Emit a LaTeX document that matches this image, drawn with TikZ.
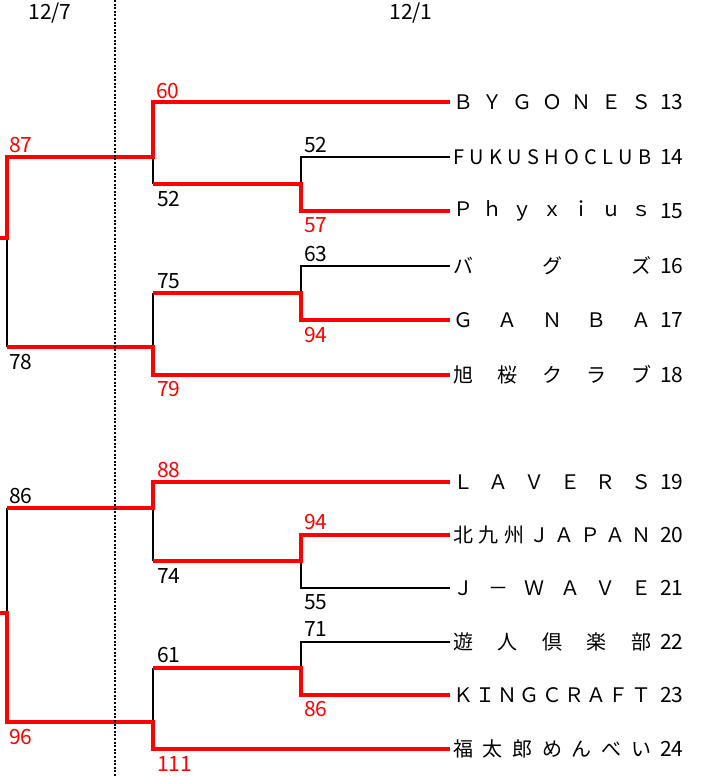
\documentclass[tikz,border=0pt]{standalone}
\usepackage{fontspec}
\setmainfont{Noto Sans CJK JP}
\begin{document}
\begin{tikzpicture}[x=1pt,y=-1pt,
  win/.style={draw={rgb,255:red,255;green,0;blue,0},line width=4pt,line join=miter},
  lose/.style={draw=black,line width=1.7pt,line join=miter},
  team/.style={anchor=west,inner xsep=3pt,inner ysep=0pt,font=\fontsize{20}{20}\selectfont},
  seed/.style={anchor=west,inner sep=0pt,font=\fontsize{21}{21}\selectfont},
  score/.style={anchor=west,inner sep=0pt,font=\fontsize{21}{21}\selectfont},
  rscore/.style={score,text={rgb,255:red,255;green,0;blue,0}},
  datelbl/.style={inner sep=0pt,font=\fontsize{21}{21}\selectfont}]
\useasboundingbox (0,0) rectangle (709,776);
\def\nw{198pt}
% teams
\node[team] (t13) at (450,102) {\makebox[\nw][l]{Ｂ\hfill Ｙ\hfill Ｇ\hfill Ｏ\hfill Ｎ\hfill Ｅ\hfill Ｓ}};
\node[team] (t14) at (450,157) {\makebox[\nw][l]{F\hfill U\hfill K\hfill U\hfill S\hfill H\hfill O\hfill C\hfill L\hfill U\hfill B}};
\node[team] (t15) at (450,211) {\makebox[\nw][l]{Ｐ\hfill ｈ\hfill ｙ\hfill ｘ\hfill ｉ\hfill ｕ\hfill ｓ}};
\node[team] (t16) at (450,266) {\makebox[\nw][l]{バ\hfill グ\hfill ズ}};
\node[team] (t17) at (450,320) {\makebox[\nw][l]{Ｇ\hfill Ａ\hfill Ｎ\hfill Ｂ\hfill Ａ}};
\node[team] (t18) at (450,375) {\makebox[\nw][l]{旭\hfill 桜\hfill ク\hfill ラ\hfill ブ}};
\node[team] (t19) at (450,482) {\makebox[\nw][l]{Ｌ\hfill Ａ\hfill Ｖ\hfill Ｅ\hfill Ｒ\hfill Ｓ}};
\node[team] (t20) at (450,535) {\makebox[\nw][l]{北\hfill 九\hfill 州\hfill Ｊ\hfill Ａ\hfill Ｐ\hfill Ａ\hfill Ｎ}};
\node[team] (t21) at (450,588) {\makebox[\nw][l]{Ｊ\hfill －\hfill Ｗ\hfill Ａ\hfill Ｖ\hfill Ｅ}};
\node[team] (t22) at (450,642) {\makebox[\nw][l]{遊\hfill 人\hfill 倶\hfill 楽\hfill 部}};
\node[team] (t23) at (450,695) {\makebox[\nw][l]{Ｋ\hfill Ｉ\hfill Ｎ\hfill Ｇ\hfill Ｃ\hfill Ｒ\hfill Ａ\hfill Ｆ\hfill Ｔ}};
\node[team] (t24) at (450,749) {\makebox[\nw][l]{福\hfill 太\hfill 郎\hfill め\hfill ん\hfill べ\hfill い}};
\foreach \n/\y in {13/102,14/157,15/211,16/266,17/320,18/375,19/482,20/535,21/588,22/642,23/695,24/749}
  \node[seed] (s\n) at (660,\y) {\n};
% joints
\coordinate (a13) at (153,102); \coordinate (a14) at (301,157); \coordinate (a15) at (301,211);
\coordinate (m1415) at (301,184); \coordinate (b1415) at (153,184);
\coordinate (q1) at (153,157); \coordinate (f1) at (7,157);
\coordinate (a16) at (301,266); \coordinate (a17) at (301,320); \coordinate (m1617) at (301,293);
\coordinate (b1617) at (153,293); \coordinate (a18) at (153,375); \coordinate (q2) at (153,347);
\coordinate (f2) at (7,347); \coordinate (fa) at (7,238); \coordinate (wa) at (0,238);
\coordinate (a19) at (153,482); \coordinate (q3) at (153,508); \coordinate (f3) at (7,508);
\coordinate (a20) at (301,535); \coordinate (a21) at (301,588); \coordinate (m2021) at (301,561);
\coordinate (b2021) at (153,561);
\coordinate (a22) at (301,642); \coordinate (a23) at (301,695); \coordinate (m2223) at (301,668);
\coordinate (b2223) at (153,668); \coordinate (a24) at (153,749); \coordinate (q4) at (153,722);
\coordinate (f4) at (7,722); \coordinate (fb) at (7,613); \coordinate (wb) at (0,613);
% losing lines
\draw[lose] (t14.west) -- (a14) -- (m1415);
\draw[lose] (b1415) -- (q1);
\draw[lose] (fa) -- (f2);
\draw[lose] (t16.west) -- (a16) -- (m1617);
\draw[lose] (b1617) -- (q2);
\draw[lose] (q3) -- (b2021);
\draw[lose] (t21.west) -- (a21) -- (m2021);
\draw[lose] (t22.west) -- (a22) -- (m2223);
\draw[lose] (b2223) -- (q4);
\draw[lose] (f3) -- (fb);
% winning lines
\draw[win] (t13.west) -- (a13) -- (q1) -- (f1) -- (fa) -- (wa);
\draw[win] (t15.west) -- (a15) -- (m1415) -- (b1415);
\draw[win] (t17.west) -- (a17) -- (m1617) -- (b1617);
\draw[win] (t18.west) -- (a18) -- (q2) -- (f2);
\draw[win] (t19.west) -- (a19) -- (q3) -- (f3);
\draw[win] (t20.west) -- (a20) -- (m2021) -- (b2021);
\draw[win] (t23.west) -- (a23) -- (m2223) -- (b2223);
\draw[win] (t24.west) -- (a24) -- (q4) -- (f4) -- (fb) -- (wb);
% scores
\node[rscore] (c60) at (156,91) {60};
\node[score] (c52a) at (304,145) {52};
\node[score] (c52b) at (157,199) {52};
\node[rscore] (c57) at (304,225) {57};
\node[rscore] (c87) at (9,145) {87};
\node[score] (c63) at (304,254) {63};
\node[score] (c75) at (157,281) {75};
\node[rscore] (c94a) at (304,335) {94};
\node[score] (c78) at (9,362) {78};
\node[rscore] (c79) at (157,389) {79};
\node[rscore] (c88) at (157,470) {88};
\node[score] (c86a) at (9,496) {86};
\node[rscore] (c94b) at (304,522) {94};
\node[score] (c74) at (157,576) {74};
\node[score] (c55) at (304,602) {55};
\node[score] (c71) at (304,629) {71};
\node[score] (c61) at (157,655) {61};
\node[rscore] (c86b) at (304,709) {86};
\node[rscore] (c96) at (9,737) {96};
\node[rscore] (c111) at (157,764) {111};
% dates and divider
\node[datelbl] (d127) at (50,13) {12/7};
\node[datelbl] (d121) at (411,13) {12/1};
\coordinate (dv1) at (115,0); \coordinate (dv2) at (115,776);
\draw[line width=2pt,dash pattern=on 2pt off 1.6pt] (dv1) -- (dv2);
\end{tikzpicture}
\end{document}
